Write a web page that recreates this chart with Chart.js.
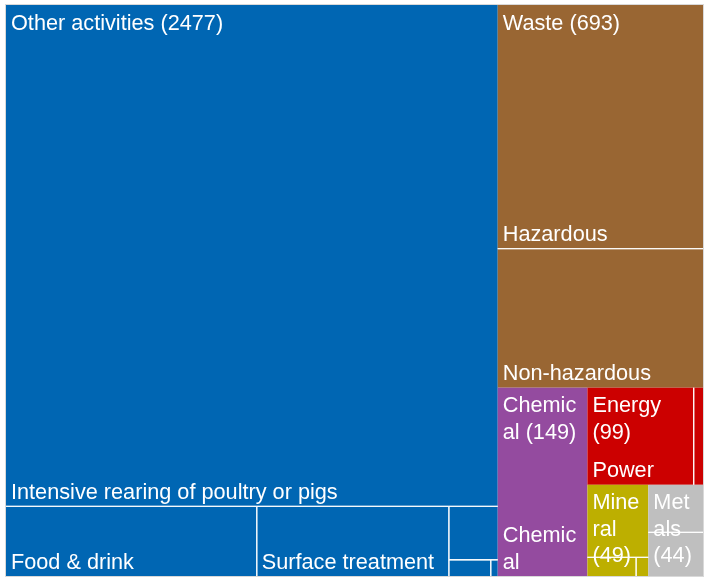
<!DOCTYPE html>
<html><head><meta charset="utf-8">
<script src="https://cdn.jsdelivr.net/npm/chart.js@4.4.1/dist/chart.umd.min.js"></script>
<style>html,body{margin:0;padding:0;background:#fff;} canvas{display:block;}</style>
</head><body>
<canvas id="c" width="709" height="582"></canvas>
<script>
// ---- data ----
const groupNames = ['Other activities', 'Waste', 'Chemical', 'Energy', 'Mineral', 'Metals'];
const otherActivitiesLabels = ['Intensive rearing of poultry or pigs', 'Food & drink', 'Surface treatment', 'Paper and pulp', 'Textiles', 'Tanning'];
const otherActivitiesValues = [2175, 154, 118, 23, 6, 1];
const wasteLabels = ['Hazardous', 'Non-hazardous'];
const wasteValues = [441, 252];
const chemicalLabels = ['Chemical'];
const chemicalValues = [149];
const energyLabels = ['Power', 'Refineries'];
const energyValues = [91, 8];
const mineralLabels = ['Cement and lime', 'Glass', 'Ceramics'];
const mineralValues = [39, 8, 2];
const metalsLabels = ['Ferrous', 'Non-ferrous'];
const metalsValues = [23, 21];

// ---- styles ----
const groupColors = ['#0066b3', '#996633', '#944b9f', '#cc0000', '#bdaf00', '#bfbfbf'];
const FONT = '21.7px "Liberation Sans", Arial, sans-serif';
const LINE_H = 26.5;
const FIRST_BASE = 24.5;
const BOTTOM_GAP = 7.5;

const childLabels = [otherActivitiesLabels, wasteLabels, chemicalLabels, energyLabels, mineralLabels, metalsLabels];
const childValues = [otherActivitiesValues, wasteValues, chemicalValues, energyValues, mineralValues, metalsValues];
const groupValues = childValues.map(a => a.reduce((s, v) => s + v, 0));

function layoutStrips(values, box, sx, sy) {
  const order = values.map((v, i) => i).sort((a, b) => values[b] - values[a]);
  let rem = values.reduce((a, b) => a + b, 0);
  let {x0, x1, y0, y1} = box;
  const out = new Array(values.length);
  order.forEach(i => {
    const v = values[i];
    const frac = rem > 0 ? v / rem : 0;
    const wpx = Math.abs(sx.getPixelForValue(x1) - sx.getPixelForValue(x0));
    const hpx = Math.abs(sy.getPixelForValue(y1) - sy.getPixelForValue(y0));
    if (wpx >= hpx) { const xc = x0 + (x1 - x0) * frac; out[i] = {x0, x1: xc, y0, y1}; x0 = xc; }
    else { const yc = y0 + (y1 - y0) * frac; out[i] = {x0, x1, y0, y1: yc}; y0 = yc; }
    rem -= v;
  });
  return out;
}

function toPx(r, sx, sy) {
  const a = sx.getPixelForValue(r.x0), b = sx.getPixelForValue(r.x1);
  const c = sy.getPixelForValue(r.y0), d = sy.getPixelForValue(r.y1);
  return {l: Math.min(a, b), r: Math.max(a, b), t: Math.min(c, d), b: Math.max(c, d)};
}

function wrap(ctx, text, maxW) {
  if (maxW <= 0) return null;
  const words = text.split(' ');
  const lines = [];
  let cur = '';
  for (const w of words) {
    const trial = cur ? cur + ' ' + w : w;
    if (ctx.measureText(trial).width <= maxW) { cur = trial; continue; }
    if (cur) { lines.push(cur); cur = ''; }
    let word = w;
    while (ctx.measureText(word).width > maxW) {
      let n = 0;
      while (n < word.length && ctx.measureText(word.slice(0, n + 1)).width <= maxW) n++;
      if (n === 0) return null;
      lines.push(word.slice(0, n));
      word = word.slice(n);
    }
    cur = word;
  }
  if (cur) lines.push(cur);
  return lines;
}

const treemapPlugin = {
  id: 'treemap',
  afterDatasetsDraw(chart) {
    const ctx = chart.ctx;
    const sx = chart.scales.x, sy = chart.scales.y;
    const area = chart.chartArea;
    const groups = layoutStrips(groupValues, {x0: sx.min, x1: sx.max, y0: sy.min, y1: sy.max}, sx, sy);
    ctx.save();
    ctx.font = FONT;
    const parentLabelInfo = [];
    groups.forEach((g, gi) => {
      const p = toPx(g, sx, sy);
      ctx.fillStyle = groupColors[gi];
      ctx.fillRect(p.l, p.t, p.r - p.l, p.b - p.t);
    });
    groups.forEach((g, gi) => {
      const gp = toPx(g, sx, sy);
      const pLines = wrap(ctx, groupNames[gi] + ' (' + groupValues[gi] + ')', gp.r - gp.l - 10) || [];
      const pBottom = gp.t + FIRST_BASE + (pLines.length - 1) * LINE_H + 6;
      parentLabelInfo.push({p: gp, lines: pLines});
      const kids = layoutStrips(childValues[gi], g, sx, sy);
      kids.forEach((k, ki) => {
        const p = toPx(k, sx, sy);
        ctx.strokeStyle = 'rgba(255,255,255,0.8)';
        ctx.lineWidth = 1.3;
        ctx.beginPath();
        if (Math.abs(p.l - gp.l) > 0.5) { ctx.moveTo(p.l, p.t); ctx.lineTo(p.l, p.b); }
        if (Math.abs(p.r - gp.r) > 0.5) { ctx.moveTo(p.r, p.t); ctx.lineTo(p.r, p.b); }
        if (Math.abs(p.t - gp.t) > 0.5) { ctx.moveTo(p.l, p.t); ctx.lineTo(p.r, p.t); }
        if (Math.abs(p.b - gp.b) > 0.5) { ctx.moveTo(p.l, p.b); ctx.lineTo(p.r, p.b); }
        ctx.stroke();
        const lines = wrap(ctx, childLabels[gi][ki], p.r - p.l - 10);
        if (!lines) return;
        const lastBase = p.b - BOTTOM_GAP;
        const topNeeded = lastBase - (lines.length - 1) * LINE_H - 17;
        const limit = Math.abs(p.t - gp.t) < 0.5 ? pBottom : p.t + 4;
        if (topNeeded < limit) return;
        ctx.fillStyle = '#ffffff';
        ctx.textBaseline = 'alphabetic';
        ctx.textAlign = 'left';
        lines.forEach((ln, li) => {
          ctx.fillText(ln, p.l + 5, lastBase - (lines.length - 1 - li) * LINE_H);
        });
      });
    });
    parentLabelInfo.forEach(info => {
      ctx.fillStyle = '#ffffff';
      ctx.textBaseline = 'alphabetic';
      ctx.textAlign = 'left';
      info.lines.forEach((ln, li) => ctx.fillText(ln, info.p.l + 5, info.p.t + FIRST_BASE + li * LINE_H));
    });
    ctx.strokeStyle = '#d9d9d9';
    ctx.lineWidth = 1;
    ctx.strokeRect(area.left - 0.5, area.top - 0.5, area.right - area.left + 1, area.bottom - area.top + 1);
    ctx.restore();
  }
};

new Chart(document.getElementById('c'), {
  type: 'scatter',
  data: { datasets: [{ data: [], pointRadius: 0 }] },
  options: {
    responsive: false,
    animation: false,
    devicePixelRatio: 1,
    layout: { padding: { left: 6, right: 6, top: 5, bottom: 6 } },
    plugins: { legend: { display: false }, tooltip: { enabled: false } },
    scales: {
      x: { type: 'linear', min: 0, max: 1, display: false },
      y: { type: 'linear', min: 0, max: 1, reverse: true, display: false }
    }
  },
  plugins: [treemapPlugin]
});
</script>
</body></html>
